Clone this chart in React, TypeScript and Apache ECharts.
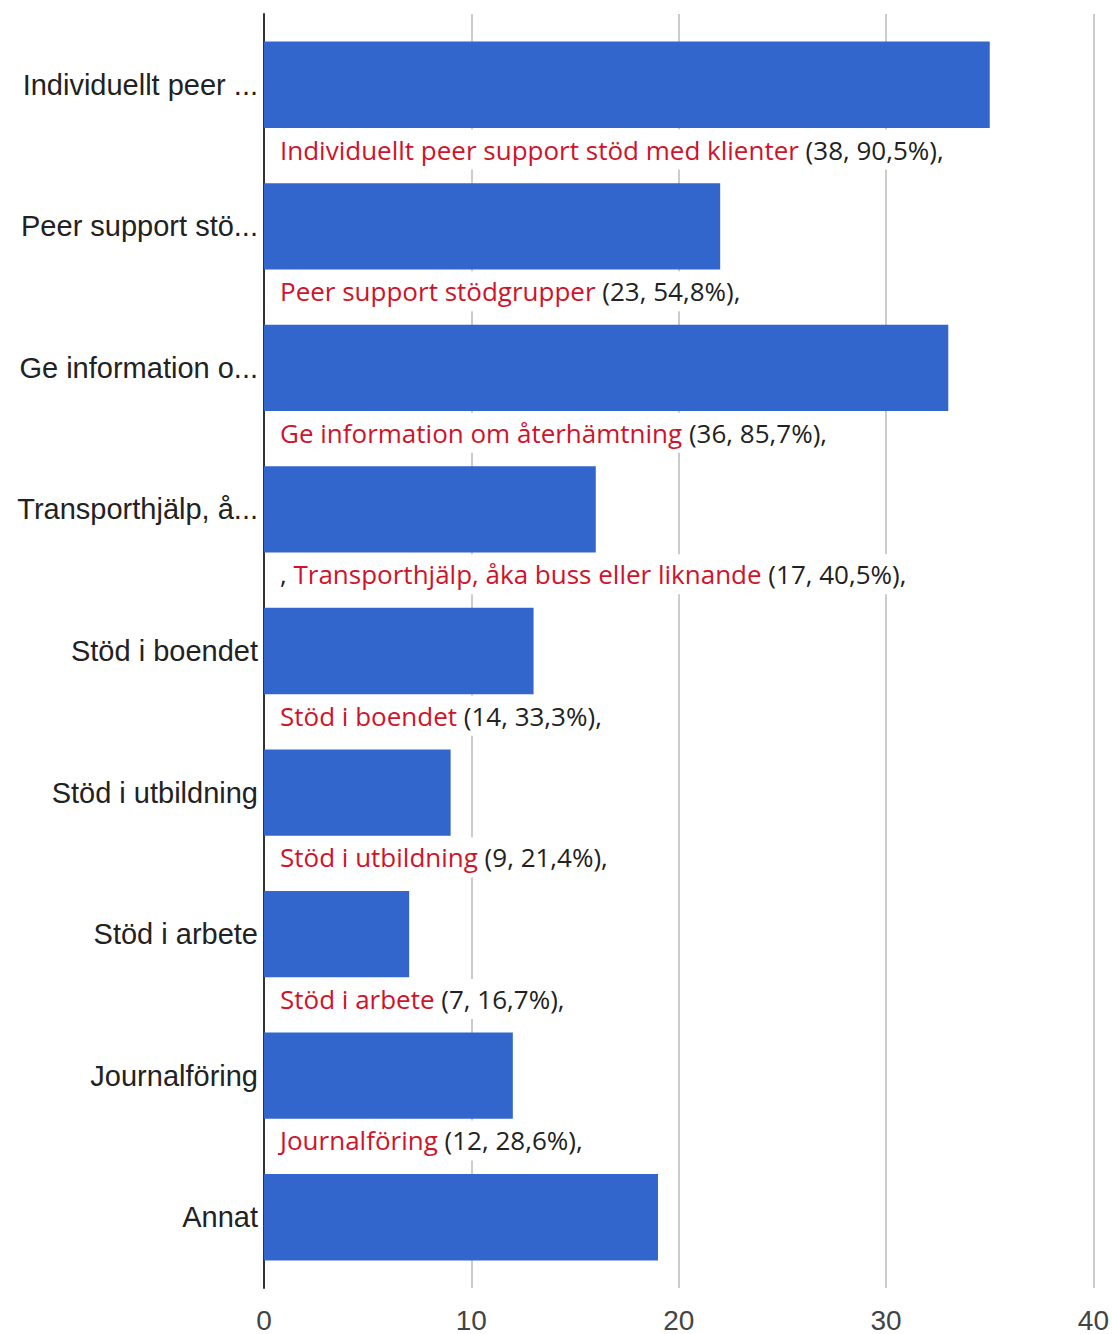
import React, { useEffect, useRef } from "react";
import * as echarts from "echarts";

const tickLabels = [
  "Individuellt peer ...",
  "Peer support stö...",
  "Ge information o...",
  "Transporthjälp, å...",
  "Stöd i boendet",
  "Stöd i utbildning",
  "Stöd i arbete",
  "Journalföring",
  "Annat",
];

const fullNames = [
  "Individuellt peer support stöd med klienter",
  "Peer support stödgrupper",
  "Ge information om återhämtning",
  "Transporthjälp, åka buss eller liknande",
  "Stöd i boendet",
  "Stöd i utbildning",
  "Stöd i arbete",
  "Journalföring",
  "",
];

const labelPrefixes = ["", "", "", ", ", "", "", "", "", ""];

const labelCounts = [
  "(38, 90,5%),",
  "(23, 54,8%),",
  "(36, 85,7%),",
  "(17, 40,5%),",
  "(14, 33,3%),",
  "(9, 21,4%),",
  "(7, 16,7%),",
  "(12, 28,6%),",
  "",
];

const barValues = [35, 22, 33, 16, 13, 9, 7, 12, 19];

const xTicks = [0, 10, 20, 30, 40];

export default function App() {
  const ref = useRef<HTMLDivElement>(null);

  useEffect(() => {
    if (!ref.current) return;
    const chart = echarts.init(ref.current, undefined, { renderer: "svg" });
    const labelFont = "Open Sans, Noto Sans, sans-serif";
    chart.setOption({
      animation: false,
      backgroundColor: "#ffffff",
      grid: { left: 264, right: 18, top: 14, bottom: 46, containLabel: false },
      xAxis: {
        type: "value",
        min: xTicks[0],
        max: xTicks[xTicks.length - 1],
        interval: 10,
        axisLine: { show: false },
        axisTick: { show: false },
        splitLine: { show: true, lineStyle: { color: "#cccccc", width: 2 } },
        axisLabel: {
          color: "#444444",
          fontFamily: "Liberation Sans, Arial, sans-serif",
          fontSize: 28,
          margin: 18,
        },
      },
      yAxis: {
        type: "category",
        inverse: true,
        data: tickLabels,
        axisLine: { show: true, lineStyle: { color: "#333333", width: 2 } },
        axisTick: { show: false },
        axisLabel: {
          color: "#222222",
          fontFamily: "Liberation Sans, Arial, sans-serif",
          fontSize: 29,
          margin: 6,
        },
      },
      series: [
        {
          type: "bar",
          data: barValues,
          barCategoryGap: "39%",
          itemStyle: { color: "#3366cc" },
          label: {
            show: true,
            position: [10, 108],
            align: "left",
            verticalAlign: "middle",
            backgroundColor: "#ffffff",
            padding: [7, 6, 7, 6],
            formatter: (p: any) => {
              const i = p.dataIndex;
              if (!fullNames[i]) return "";
              const pre = labelPrefixes[i] ? `{b|${labelPrefixes[i]}}` : "";
              return `${pre}{r|${fullNames[i]}}{b| ${labelCounts[i]}}`;
            },
            rich: {
              r: {
                color: "#d0122a",
                fontFamily: labelFont,
                fontSize: 26,
              },
              b: {
                color: "#222222",
                fontFamily: labelFont,
                fontSize: 26,
              },
            },
          },
        },
      ],
    });
    return () => chart.dispose();
  }, []);

  return (
    <div
      ref={ref}
      style={{ position: "fixed", left: 0, top: 0, width: 1112, height: 1334 }}
    />
  );
}
